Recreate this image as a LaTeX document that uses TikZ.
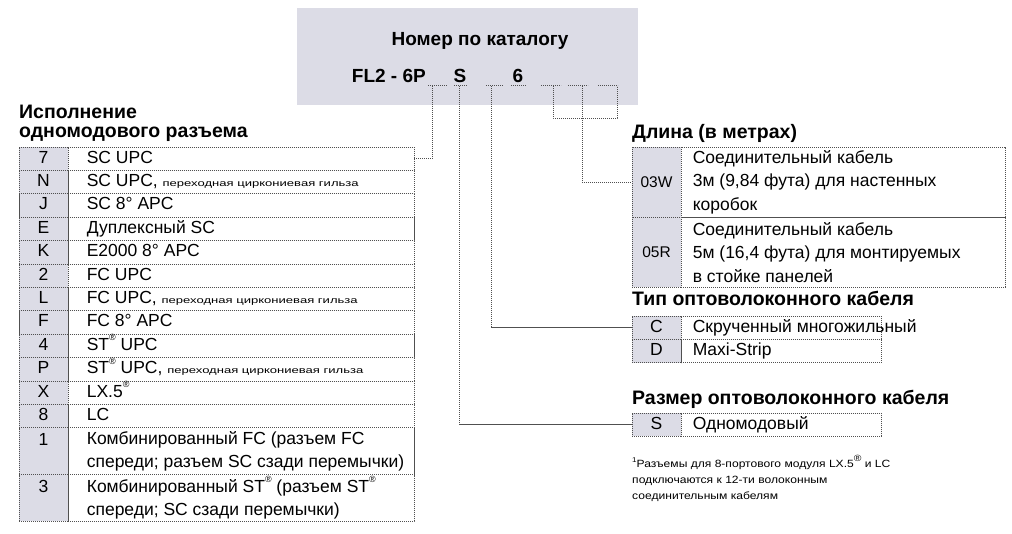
\documentclass[tikz,border=0pt]{standalone}
\usepackage{fontspec}
\setmainfont{Liberation Sans}
\usetikzlibrary{positioning}
\definecolor{cellfill}{RGB}{220,220,230}
\definecolor{dotline}{RGB}{80,80,80}

\newcommand{\smallnote}[1]{\scalebox{1.45}[1]{\fontsize{9}{10}\selectfont #1}}
\newcommand{\reg}{\raisebox{0.55em}{\fontsize{9}{9}\selectfont ®}}

\begin{document}
\begin{tikzpicture}[x=1pt,y=-1pt,
  every node/.style={font=\fontsize{17.5}{23.4}\selectfont, inner sep=0pt},
  ttl/.style={font=\fontsize{19.5}{20}\selectfont\bfseries, anchor=base west, align=left},
  pnum/.style={font=\fontsize{19}{20}\selectfont\bfseries, anchor=base},
  frame/.style={draw=dotline, dash pattern=on 1.2pt off 0.8pt, line width=0.8pt},
  cell/.style={frame, minimum height=23.4pt},
  code/.style={cell, fill=cellfill, minimum width=49pt},
  entry/.style={anchor=west, align=left},
  line/.style={entry, text height=13pt, text depth=4pt},
  conn/.style={draw=dotline, dash pattern=on 1.2pt off 0.8pt, line width=0.8pt},
  blank/.style={draw=dotline, dash pattern=on 1.2pt off 0.8pt, line width=1pt}
]
\useasboundingbox (0,0) rectangle (1012,534);

%% catalogue number
\node[fill=cellfill, minimum width=341pt, minimum height=97pt] (hdr) at (467.5,56.5) {};
\node[pnum] (cat) at (480,46) {Номер по каталогу};
\node[pnum, anchor=base east] (fl) at (426,83) {FL2 - 6P};
\node[pnum] (sS) at (460,83) {S};
\node[pnum] (s6) at (518,83) {6};

%% blanks under the number
\foreach \a/\b in {428/447,454/467,486/503,511/526,541/561,568/588,598/618}
  \draw[blank] (\a,86) -- (\b,86);
\coordinate (bc) at (432,86);
\coordinate (bs) at (459,86);
\coordinate (bt) at (491,86);
\coordinate (bl1) at (553,86);
\coordinate (bl2) at (582,86);
\coordinate (bl3) at (617,86);

%% connector table
\node[ttl] (ct1) at (19,119) {Исполнение};
\node[ttl] (ct2) at (19,138) {одномодового разъема};
\foreach \cd/\ds [count=\i] in {7/{SC UPC},
    N/{SC UPC, \smallnote{переходная циркониевая гильза}},
    J/{SC 8° APC}, E/{Дуплексный SC}, K/{E2000 8° APC}, 2/{FC UPC},
    L/{FC UPC, \smallnote{переходная циркониевая гильза}},
    F/{FC 8° APC}, 4/{ST\reg{} UPC},
    P/{ST\reg{} UPC, \smallnote{переходная циркониевая гильза}},
    X/{LX.5\reg}, 8/{LC}}{
  \pgfmathsetmacro\yy{147+(\i-0.5)*23.4}
  \node[code, text height=13pt, text depth=4pt] (c\i) at (43.5,\yy) {\cd};
  \node[cell, minimum width=346pt] (t\i) at (241,\yy) {};
  \node[line, right=19pt of t\i.west] (e\i) {\ds};
}
\node[code, minimum height=46.8pt, align=center] (c13) at (43.5,451.2) {1\\\phantom{1}};
\node[cell, minimum width=346pt, minimum height=46.8pt] (t13) at (241,451.2) {};
\node[entry, right=19pt of t13.west] (e13) {Комбинированный FC (разъем FC\\спереди; разъем SC сзади перемычки)};
\node[code, minimum height=46.8pt, align=center] (c14) at (43.5,498) {3\\\phantom{3}};
\node[cell, minimum width=346pt, minimum height=46.8pt] (t14) at (241,498) {};
\node[entry, right=19pt of t14.west] (e14) {Комбинированный ST\reg{} (разъем ST\reg\\спереди; SC сзади перемычки)};

%% length
\node[ttl] (lt) at (632,139) {Длина (в метрах)};
\node[code, minimum height=70.2pt, font=\fontsize{15.5}{18}\selectfont] (l1c) at (656.5,182.1) {03W};
\node[cell, minimum width=324pt, minimum height=70.2pt] (l1t) at (843,182.1) {};
\node[entry, right=12pt of l1t.west] (l1e) {Соединительный кабель\\3м (9,84 фута) для настенных\\коробок};
\node[code, minimum height=70.2pt, font=\fontsize{15.5}{18}\selectfont] (l2c) at (656.5,252.3) {05R};
\node[cell, minimum width=324pt, minimum height=70.2pt] (l2t) at (843,252.3) {};
\node[entry, right=12pt of l2t.west] (l2e) {Соединительный кабель\\5м (16,4 фута) для монтируемых\\в стойке панелей};

%% cable type
\node[ttl] (tt) at (632,306) {Тип оптоволоконного кабеля};
\node[code, text height=13pt, text depth=4pt] (tyc) at (656.5,327.7) {C};
\node[cell, minimum width=200pt] (tyt) at (781,327.7) {};
\node[line, right=12pt of tyt.west] (tye) {Скрученный многожильный};
\node[code, text height=13pt, text depth=4pt] (tdc) at (656.5,351.1) {D};
\node[cell, minimum width=200pt] (tdt) at (781,351.1) {};
\node[line, right=12pt of tdt.west] (tde) {Maxi-Strip};

%% cable size
\node[ttl] (st) at (632,404) {Размер оптоволоконного кабеля};
\node[code, text height=13pt, text depth=4pt] (szc) at (656.5,424.7) {S};
\node[cell, minimum width=200pt] (szt) at (781,424.7) {};
\node[line, right=12pt of szt.west] (sze) {Одномодовый};

%% footnote
\node[anchor=north west] (fn) at (632,455)
  {\scalebox{1.15}[1]{\fontsize{10.5}{16}\selectfont
   \begin{tabular}{@{}l@{}}\raisebox{0.5em}{\fontsize{7}{7}\selectfont 1}Разъемы для 8-портового модуля LX.5\reg{} и LC\\
   подключаются к 12-ти волоконным\\соединительным кабелям\end{tabular}}};

%% connectors
\draw[conn] (bc) |- (t1.east);
\draw[conn] (bs) |- (szc.west);
\draw[conn] (bt) |- (tyc.west);
\draw[conn] (bl1) -- ++(0,32) -| (bl3);
\draw[conn] (bl2) |- (l1c.west);
\end{tikzpicture}
\end{document}
